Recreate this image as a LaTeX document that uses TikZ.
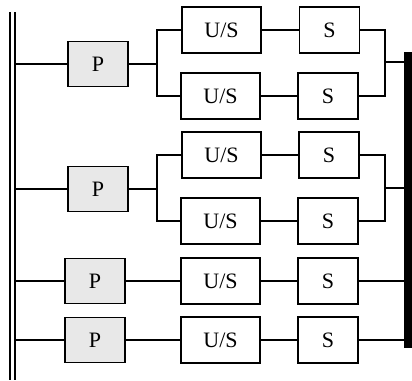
\documentclass[tikz,border=0pt]{standalone}
\usepackage{fontspec}
\setmainfont{Liberation Serif}
\begin{document}
\begin{tikzpicture}[x=1pt,y=-1pt,
  blk/.style={draw, line width=1.8pt, minimum height=46pt, inner sep=0pt, font=\fontsize{22}{26}\selectfont},
  pbox/.style={blk, fill=black!9, minimum width=60pt, minimum height=45pt},
  usbox/.style={blk, minimum width=79pt},
  sbox/.style={blk, minimum width=60pt},
  wire/.style={line width=1.4pt}]
\useasboundingbox (0,0) rectangle (412,380);
% left double bus
\draw[line width=2pt] (10,12) -- (10,380);
\draw[line width=2pt] (15,12) -- (15,380);
\coordinate (L) at (15,0);
\coordinate (B) at (157,0);
\coordinate (M) at (385,0);
\coordinate (J1) at (385,62);
\coordinate (J2) at (385,188);
% right bus
\node[fill=black, inner sep=0pt, minimum width=8pt, minimum height=296pt] (bar) at (408,200) {};
% row 1
\node[pbox] (P1) at (98,64) {P};
\node[usbox] (U1a) at (221.5,30) {U/S};
\node[sbox] (S1a) at (329.5,30) {S};
\node[usbox] (U1b) at (220.5,96) {U/S};
\node[sbox] (S1b) at (328,96) {S};
% row 2
\node[pbox] (P2) at (98,189) {P};
\node[usbox] (U2a) at (221.5,155) {U/S};
\node[sbox] (S2a) at (329,155) {S};
\node[usbox] (U2b) at (220.5,221) {U/S};
\node[sbox] (S2b) at (328,221) {S};
% row 3
\node[pbox] (P3) at (95,281) {P};
\node[usbox] (U3) at (220.5,281) {U/S};
\node[sbox] (S3) at (328,281) {S};
% row 4
\node[pbox] (P4) at (95,340) {P};
\node[usbox] (U4) at (220.5,340) {U/S};
\node[sbox] (S4) at (328,340) {S};
% connectors row 1
\draw[wire] (P1.west) -- (P1.west -| L);
\draw[wire] (P1.east) -- (P1.east -| B);
\draw[wire] (U1a.west) -- (U1a.west -| B) -- (U1b.west -| B) -- (U1b.west);
\draw[wire] (U1a.east) -- (S1a.west);
\draw[wire] (U1b.east) -- (S1b.west);
\draw[wire] (S1a.east) -- (S1a.east -| M) -- (S1b.east -| M) -- (S1b.east);
\draw[wire] (J1) -- (J1 -| bar.west);
% connectors row 2
\draw[wire] (P2.west) -- (P2.west -| L);
\draw[wire] (P2.east) -- (P2.east -| B);
\draw[wire] (U2a.west) -- (U2a.west -| B) -- (U2b.west -| B) -- (U2b.west);
\draw[wire] (U2a.east) -- (S2a.west);
\draw[wire] (U2b.east) -- (S2b.west);
\draw[wire] (S2a.east) -- (S2a.east -| M) -- (S2b.east -| M) -- (S2b.east);
\draw[wire] (J2) -- (J2 -| bar.west);
% rows 3, 4
\draw[wire] (P3.west) -- (P3.west -| L);
\draw[wire] (P3) -- (U3) -- (S3);
\draw[wire] (S3.east) -- (S3.east -| bar.west);
\draw[wire] (P4.west) -- (P4.west -| L);
\draw[wire] (P4) -- (U4) -- (S4);
\draw[wire] (S4.east) -- (S4.east -| bar.west);
\end{tikzpicture}
\end{document}
